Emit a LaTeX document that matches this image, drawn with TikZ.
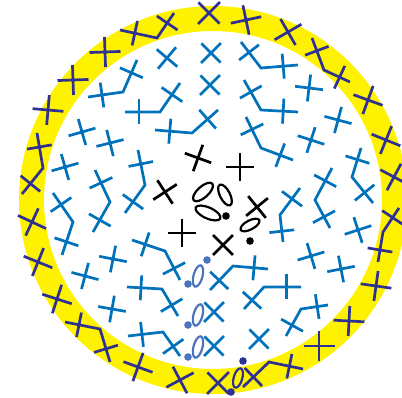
\documentclass[tikz,border=0pt]{standalone}
\usetikzlibrary{calc}
\definecolor{ringy}{HTML}{FFF200}
\definecolor{navy}{HTML}{2E3192}
\definecolor{sblue}{HTML}{0072BC}
\definecolor{lblue}{HTML}{4A74BD}
\tikzset{symb/.style={line width=2.7pt, line cap=butt, line join=miter}}
\def\stemL{13.5}
\def\barL{14}
\def\vbarL{12.5}
% simple stitch: centre, screen angle of stem
\newcommand{\crs}[3][sblue]{\draw[symb,#1,shift={(#2)}] (#3:\stemL) -- (#3+180:\stemL) (#3+90:\barL) -- (#3-90:\barL);}
% increase: vertex, arm end 1, arm end 2
\newcommand{\incv}[4][sblue]{%
  \draw[symb,#1] (#3) -- (#2) -- (#4);
  \draw[symb,#1] ($(#2)!0.6!(#3)!\vbarL pt!90:(#3)$) -- ($(#2)!0.6!(#3)!\vbarL pt!-90:(#3)$);
  \draw[symb,#1] ($(#2)!0.6!(#4)!\vbarL pt!90:(#4)$) -- ($(#2)!0.6!(#4)!\vbarL pt!-90:(#4)$);}
% chain: centre, canvas rotation, radii
\newcommand{\chn}[4][black]{\draw[#1,line width=2.2pt,shift={(#2)},rotate=#3] (0,0) ellipse (#4);}
\newcommand{\sst}[2][black]{\fill[#1] (#2) circle (3.8);}
\begin{document}
\begin{tikzpicture}[x=1pt,y=-1pt]
\useasboundingbox (0,0) rectangle (402,398);
\clip (0,0) rectangle (402,398);
\fill[white] (0,0) rectangle (402,398);
\fill[ringy,even odd rule] (213,200) circle (194) (213,200) circle (169);
% ---- blue rounds
\crs{167,58}{40}
\crs{211,53}{45}
\crs{210,85}{45}
\crs{309,88}{97}
\crs{338,120}{105}
\crs{311,140}{108}
\crs{82,132}{74}
\crs{110,143}{76}
\crs{65,167}{74}
\crs{113,259}{101}
\crs{85,276}{105}
\crs{112,309}{100}
\crs{311,256}{73}
\crs{341,269}{79}
\crs{358,230}{72}
\crs{259,339}{45}
\crs{214,346}{45}
\crs{214,312}{45}
\incv{123,92}{88,97}{137,60}
\incv{160,112}{125,112}{180,83}
\incv{192,133}{155,130}{218,110}
\incv{261,68}{241,42}{298,65}
\incv{261,110}{244,80}{298,112}
\incv{261,148}{246,117}{293,160}
\incv{352,177}{361,148}{373,203}
\incv{315,200}{332,168}{330,228}
\incv{280,215}{300,188}{283,242}
\incv{110,202}{95,170}{93,232}
\incv{145,185}{138,150}{125,213}
\incv{73,222}{53,193}{62,255}
\incv{165,251}{132,240}{180,280}
\incv{162,289}{127,287}{178,316}
\incv{163,332}{128,336}{180,356}
\incv{233,266}{210,290}{268,269}
\incv{264,287}{301,287}{244,309}
\incv{301,309}{328,305}{286,336}
% ---- outer round (navy)
\def\stemL{15}
\def\barL{15.5}
\crs[navy]{209,13}{45}
\crs[navy]{246,20}{78}
\crs[navy]{288,32}{60}
\crs[navy]{368,100}{110}
\crs[navy]{386,140}{112}
\crs[navy]{394,177}{118}
\crs[navy]{376,286}{98}
\crs[navy]{349,321}{93}
\crs[navy]{319,346}{90}
\crs[navy]{218,383}{45}
\crs[navy]{180,380}{62}
\crs[navy]{138,367}{110}
\crs[navy]{57,299}{108}
\crs[navy]{38,262}{112}
\crs[navy]{32,222}{115}
\crs[navy]{48,110}{95}
\crs[navy]{73,80}{88}
\crs[navy]{105,52}{88}
\incv[navy]{157,38}{120,30}{174,13}
\incv[navy]{324,70}{312,38}{350,82}
\incv[navy]{383,232}{378,262}{399,208}
\incv[navy]{269,362}{243,387}{303,369}
\incv[navy]{100,329}{65,322}{110,362}
\incv[navy]{43,168}{37,133}{22,194}
\chn[navy]{238,378}{74}{10 and 4.3}
\sst[navy]{243,361}
\sst[navy]{231,392}
% ---- round joins (light blue)
\sst[lblue]{207,260}
\sst[lblue]{188,284}
\sst[lblue]{188,325}
\sst[lblue]{188,357}
\chn[lblue]{198,276}{75}{11 and 4.5}
\chn[lblue]{198,315}{75}{11 and 4.5}
\chn[lblue]{198,347}{75}{11 and 4.5}
% ---- centre (black)
\def\stemL{14}
\def\barL{14}
\crs[black]{198,158}{110}
\crs[black]{240,167}{90}
\crs[black]{165,192}{57}
\crs[black]{182,233}{90}
\crs[black]{223,245}{135}
\crs[black]{257,207}{51}
\chn{203,192}{42}{12.5 and 5.5}
\chn{225,195}{-63}{11.5 and 5}
\chn{208,213}{-24}{13.5 and 5.5}
\chn{250,225}{28}{10.5 and 4.5}
\sst{226,216}
\sst{250,241}
\end{tikzpicture}
\end{document}
